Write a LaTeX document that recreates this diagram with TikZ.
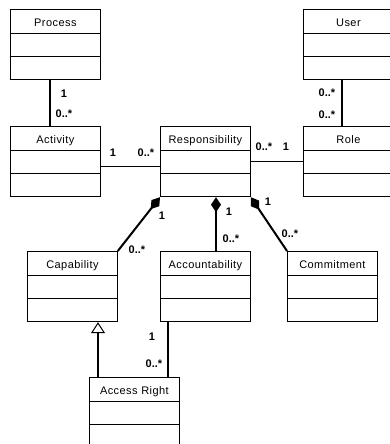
\documentclass[tikz,border=0pt]{standalone}
\usepackage{fontspec}
\setmainfont{Liberation Sans}
\newfontfamily\clsfont[LetterSpace=4]{Liberation Sans}
\usetikzlibrary{shapes.multipart,arrows.meta}
\newcommand{\clsstrut}{\rule[-6.5pt]{0pt}{23pt}}

\begin{document}
\begin{tikzpicture}
  [x=1pt,y=-1pt,
   cls/.style={draw, line width=0.8pt, anchor=north west, rectangle split,
     rectangle split parts=3, rectangle split ignore empty parts=false,
     rectangle split empty part height=22.5pt, rectangle split empty part depth=0pt,
     inner xsep=0pt, inner ysep=0pt, text width=90pt, align=center,
     font=\clsfont\fontsize{11pt}{13pt}\selectfont},
   mult/.style={font=\bfseries\fontsize{11pt}{13pt}\selectfont, inner sep=0pt},
   assoc/.style={line width=2pt},
   link/.style={line width=1pt},
   comp/.style={line width=2pt, -{Diamond[length=15pt,width=10pt]}},
   gen/.style={line width=2pt, -{Triangle[open,length=11pt,width=14pt,line width=1pt]}}]

  \useasboundingbox[fill=white] (0,0) rectangle (390,444);

  \node[cls] (process) at (10,9)   {\clsstrut Process};
  \node[cls] (user)    at (303,9)  {\clsstrut User};
  \node[cls] (activity) at (10,126) {\clsstrut Activity};
  \node[cls] (resp)    at (160,126) {\clsstrut Responsibility};
  \node[cls] (role)    at (303,126) {\clsstrut Role};
  \node[cls] (cap)     at (27,251)  {\clsstrut Capability};
  \node[cls] (acc)     at (160,251) {\clsstrut Accountability};
  \node[cls] (commit)  at (287,251) {\clsstrut Commitment};
  \node[cls] (access)  at (89,377)  {\clsstrut Access Right};

  \draw[assoc] ([xshift=40pt]process.south west) -- ([xshift=40pt]activity.north west);
  \draw[assoc] ([xshift=39pt]user.south west) -- ([xshift=39pt]role.north west);
  \draw[link] ([yshift=-40pt]activity.north east) -- ([yshift=-40pt]resp.north west);
  \draw[link] ([yshift=-35pt]resp.north east) -- ([yshift=-35pt]role.north west);
  \draw[comp] (cap.north east) -- (resp.south west);
  \draw[comp] ([xshift=56pt]acc.north west) -- ([xshift=56pt]resp.south west);
  \draw[comp] (commit.north west) -- (resp.south east);
  \draw[gen] ([xshift=9pt]access.north west) -- ([xshift=71pt]cap.south west);
  \draw[assoc] ([xshift=8pt]acc.south west) -- ([xshift=79pt]access.north west);

  \foreach \n/\x/\y/\t in {pa1/64/94/1, pa2/64/114/{0..*},
      ar1/113/153/1, ar2/146/153/{0..*},
      ur1/327/93/{0..*}, ur2/327/115/{0..*},
      rr1/264/147/{0..*}, rr2/286/147/1,
      rc1/162/216/1, rc2/137/250/{0..*},
      ra1/229/212/1, ra2/231/239/{0..*},
      rm1/268/202/1, rm2/290/234/{0..*},
      aa1/152/337/1, aa2/154/364/{0..*}}
    \node[mult] (m\n) at (\x,\y) {\t};

\end{tikzpicture}
\end{document}
